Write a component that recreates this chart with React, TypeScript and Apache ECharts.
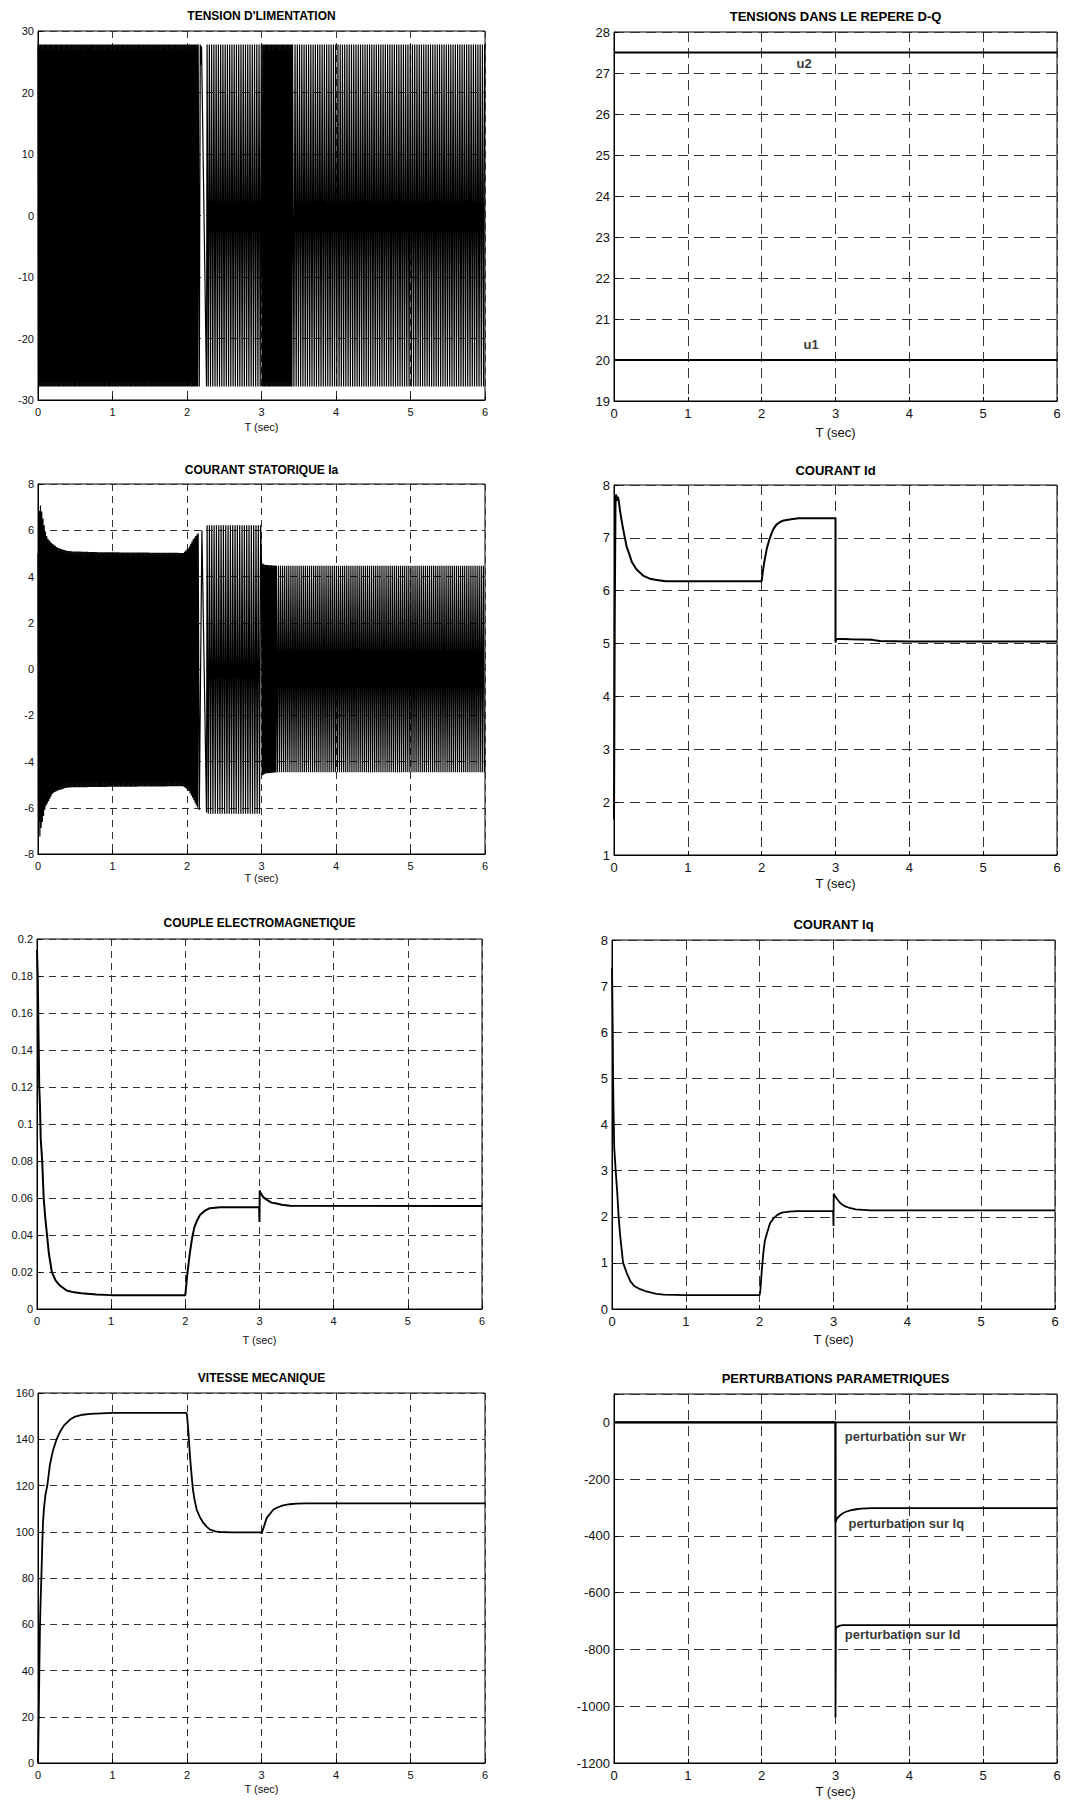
import React, { useEffect, useRef } from "react";
import * as echarts from "echarts";

const FONT = '"Liberation Sans", Arial, Helvetica, sans-serif';

// ---------- shared axis ----------
const timeMin = 0;
const timeMax = 6;
const timeStep = 1;

// ---------- 1. TENSION D'LIMENTATION (carrier between envelopes) ----------
const tensionEnvT = [0, 6];
const tensionEnvHi = [27.8, 27.8];
const tensionEnvLo = [-27.8, -27.8];
const tensionBurstStart = [0, 2.27, 3.0, 3.42];
const tensionBurstEnd = [2.155, 3.0, 3.42, 6.0];
const tensionBurstHz = [60, 33, 60, 33];
const tensionGapT = [2.165, 2.178, 2.186, 2.195, 2.262];
const tensionGapV = [-27.8, 27.8, 24.5, 27.5, -27.8];

// ---------- 2. TENSIONS DANS LE REPERE D-Q ----------
const u1T = [0, 6];
const u1V = [20, 20];
const u2T = [0, 6];
const u2V = [27.5, 27.5];

// ---------- 3. COURANT STATORIQUE Ia (carrier between envelopes) ----------
const iaEnvT = [0, 0.013, 0.036, 0.045, 0.067, 0.09, 0.11, 0.13, 0.16, 0.2, 0.27, 0.38, 0.43, 0.83, 1.95, 2.02, 2.04, 2.08, 2.13, 2.16, 2.27, 2.99, 3.0, 3.05, 3.2, 6.0];
const iaEnvHi = [5.0, 6.8, 7.1, 6.9, 6.5, 6.1, 5.8, 5.65, 5.52, 5.4, 5.23, 5.12, 5.09, 5.05, 5.02, 5.23, 5.35, 5.6, 5.8, 5.9, 6.22, 6.22, 4.6, 4.5, 4.47, 4.47];
const iaEnvLo = [-5.0, -7.5, -7.0, -6.8, -6.5, -6.1, -5.9, -5.79, -5.6, -5.36, -5.25, -5.14, -5.12, -5.1, -5.07, -5.25, -5.36, -5.6, -5.93, -6.08, -6.26, -6.26, -4.62, -4.52, -4.47, -4.47];
const iaBurstStart = [0, 2.27, 3.0, 3.2];
const iaBurstEnd = [2.155, 3.0, 3.2, 6.0];
const iaBurstHz = [60, 32, 60, 36];
const iaGapT = [2.165, 2.2, 2.262];
const iaGapV = [-6.1, 6.0, -6.2];

// ---------- 4. COURANT Id ----------
const idT = [0, 0.01, 0.02, 0.027, 0.04, 0.05, 0.065, 0.08, 0.1, 0.126, 0.15, 0.17, 0.2, 0.24, 0.3, 0.4, 0.5, 0.6, 0.7, 1.0, 2.0, 2.01, 2.03, 2.05, 2.07, 2.1, 2.13, 2.16, 2.2, 2.25, 2.3, 2.4, 2.5, 3.0, 3.0, 3.01, 3.2, 3.5, 3.6, 4.0, 6.0];
const idV = [1.67, 5.5, 7.6, 7.82, 7.7, 7.78, 7.7, 7.53, 7.35, 7.15, 6.98, 6.84, 6.72, 6.55, 6.41, 6.28, 6.22, 6.2, 6.18, 6.18, 6.18, 6.3, 6.5, 6.65, 6.8, 6.95, 7.07, 7.17, 7.25, 7.3, 7.33, 7.35, 7.37, 7.37, 5.02, 5.09, 5.08, 5.07, 5.05, 5.04, 5.04];

// ---------- 5. COUPLE ELECTROMAGNETIQUE ----------
const ceT = [0, 0.01, 0.02, 0.03, 0.04, 0.05, 0.07, 0.09, 0.11, 0.135, 0.16, 0.2, 0.25, 0.3, 0.4, 0.5, 0.6, 0.8, 1.0, 2.0, 2.01, 2.03, 2.06, 2.09, 2.12, 2.16, 2.2, 2.26, 2.33, 2.47, 2.995, 3.0, 3.003, 3.01, 3.05, 3.1, 3.16, 3.23, 3.3, 3.41, 6.0];
const ceV = [0.194, 0.18, 0.15, 0.12, 0.11, 0.092, 0.08, 0.06, 0.05, 0.04, 0.03, 0.02, 0.0155, 0.013, 0.01, 0.009, 0.0085, 0.0078, 0.0075, 0.0075, 0.012, 0.02, 0.03, 0.038, 0.044, 0.048, 0.051, 0.053, 0.0545, 0.055, 0.055, 0.047, 0.064, 0.063, 0.0605, 0.059, 0.0575, 0.057, 0.0563, 0.0558, 0.0557];

// ---------- 6. COURANT Iq ----------
const iqT = [0, 0.005, 0.01, 0.015, 0.02, 0.03, 0.05, 0.07, 0.09, 0.11, 0.13, 0.15, 0.2, 0.25, 0.3, 0.38, 0.45, 0.52, 0.6, 0.7, 1.0, 2.0, 2.01, 2.03, 2.05, 2.07, 2.1, 2.14, 2.19, 2.24, 2.3, 2.4, 2.5, 2.995, 3.0, 3.003, 3.01, 3.05, 3.09, 3.15, 3.22, 3.3, 3.4, 3.5, 6.0];
const iqV = [7.4, 6.8, 6.0, 5.0, 4.4, 3.5, 3.0, 2.55, 2.0, 1.6, 1.3, 1.0, 0.78, 0.6, 0.5, 0.43, 0.39, 0.36, 0.33, 0.31, 0.3, 0.3, 0.42, 0.86, 1.22, 1.48, 1.65, 1.86, 1.97, 2.04, 2.09, 2.11, 2.12, 2.12, 1.8, 2.5, 2.47, 2.38, 2.3, 2.23, 2.19, 2.16, 2.15, 2.14, 2.14];

// ---------- 7. VITESSE MECANIQUE ----------
const vT = [0, 0.01, 0.02, 0.027, 0.035, 0.045, 0.058, 0.067, 0.08, 0.1, 0.125, 0.16, 0.2, 0.25, 0.3, 0.35, 0.43, 0.5, 0.6, 0.7, 0.85, 1.0, 1.99, 2.0, 2.02, 2.04, 2.06, 2.08, 2.1, 2.13, 2.17, 2.22, 2.27, 2.31, 2.38, 2.44, 2.6, 2.99, 3.0, 3.03, 3.07, 3.12, 3.16, 3.22, 3.29, 3.38, 3.47, 3.6, 6.0];
const vV = [0, 20, 45, 60, 70, 80, 95, 104, 110, 116, 120, 129, 135, 140, 143.5, 146, 148.5, 149.8, 150.6, 151, 151.2, 151.4, 151.4, 150.5, 142.7, 132.6, 125, 118.2, 114, 109.6, 106.5, 103.8, 102, 100.9, 100.2, 99.9, 99.7, 99.7, 99.2, 102, 106, 108, 109.6, 110.6, 111.4, 111.9, 112.2, 112.3, 112.3];

// ---------- 8. PERTURBATIONS PARAMETRIQUES ----------
const pWrT = [0, 6];
const pWrV = [0, 0];
const pIqT = [0, 2.999, 3.0, 3.02, 3.06, 3.1, 3.15, 3.2, 3.28, 3.35, 3.42, 3.5, 6.0];
const pIqV = [0, 0, -352, -338, -328, -320, -314, -310, -306, -304, -303, -302, -302];
const pIdT = [0, 2.999, 3.0, 3.005, 3.01, 3.06, 3.1, 6.0];
const pIdV = [0, 0, -1040, -730, -722, -716, -714, -714];

// ---------- texts ----------
const titles = [
  "TENSION D'LIMENTATION",
  "TENSIONS DANS LE REPERE D-Q",
  "COURANT STATORIQUE Ia",
  "COURANT Id",
  "COUPLE ELECTROMAGNETIQUE",
  "COURANT Iq",
  "VITESSE MECANIQUE",
  "PERTURBATIONS PARAMETRIQUES",
];
const xName = "T (sec)";
const yMin = [-30, 19, -8, 1, 0, 0, 0, -1200];
const yMax = [30, 28, 8, 8, 0.2, 8, 160, 100];
const yStep = [10, 1, 2, 1, 0.02, 1, 20, 200];

const dqLabels = ["u2", "u1"];
const dqLabelT = [2.465, 2.56];
const dqLabelV = [27.24, 20.39];
const pertLabels = ["perturbation sur Wr", "perturbation sur Iq", "perturbation sur Id"];
const pertLabelT = [3.12, 3.17, 3.12];
const pertLabelV = [-50, -357, -749];

// ---------- helpers ----------
function zip(ts: number[], vs: number[]) {
  const n = Math.min(ts.length, vs.length);
  const out: number[][] = [];
  for (let i = 0; i < n; i++) out.push([ts[i], vs[i]]);
  return out;
}

function interp(ts: number[], vs: number[], t: number) {
  if (t <= ts[0]) return vs[0];
  for (let i = 1; i < ts.length; i++) {
    if (t <= ts[i]) {
      const a = ts[i - 1];
      const b = ts[i];
      const f = b === a ? 1 : (t - a) / (b - a);
      return vs[i - 1] + f * (vs[i] - vs[i - 1]);
    }
  }
  return vs[vs.length - 1];
}

function carrier(
  envT: number[], hi: number[], lo: number[],
  bStart: number[], bEnd: number[], bHz: number[],
  gapT: number[], gapV: number[]
) {
  const pts: number[][] = [];
  for (let s = 0; s < bStart.length; s++) {
    const half = 1 / (2 * bHz[s]);
    const n = Math.floor((bEnd[s] - bStart[s]) / half + 1e-9);
    for (let k = 0; k <= n; k++) {
      const t = bStart[s] + k * half;
      pts.push([t, k % 2 === 0 ? interp(envT, hi, t) : interp(envT, lo, t)]);
    }
  }
  for (let i = 0; i < gapT.length; i++) pts.push([gapT[i], gapV[i]]);
  pts.sort((a, b) => a[0] - b[0]);
  return pts;
}

// ---------- layout ----------
const layout = [
  { left: 38, top: 31, width: 447, height: 369 },
  { left: 614, top: 32, width: 443, height: 369 },
  { left: 38, top: 484, width: 447, height: 370 },
  { left: 614, top: 485, width: 443, height: 370 },
  { left: 37, top: 939, width: 445, height: 370 },
  { left: 612, top: 940, width: 443, height: 369 },
  { left: 38, top: 1393, width: 447, height: 370 },
  { left: 614, top: 1394, width: 443, height: 369 },
];
const titleY = [16, 16, 470, 470, 923, 924, 1378, 1378];
const nameGaps = [21.5, 24.5, 18.5, 21.5, 25.5, 23.5, 20.5, 21.5];

function buildOption() {
  const grid: any[] = [];
  const xAxis: any[] = [];
  const yAxis: any[] = [];
  const series: any[] = [];
  const graphic: any[] = [];

  layout.forEach((g, i) => {
    const right = i % 2 === 1;
    const fs = right ? 13 : 11;
    const dash = right ? [10, 6] : [7, 5];
    grid.push({
      left: g.left, top: g.top, width: g.width, height: g.height,
      show: true, borderColor: "#000", borderWidth: 1, backgroundColor: "transparent",
      containLabel: false,
    });
    xAxis.push({
      type: "value", gridIndex: i, min: timeMin, max: timeMax, interval: timeStep,
      name: xName, nameLocation: "middle", nameGap: nameGaps[i],
      nameTextStyle: { fontFamily: FONT, fontSize: fs, color: "#111" },
      axisLine: { show: true, onZero: false, lineStyle: { color: "#000", width: 1 } },
      axisTick: { show: true, inside: true, length: 4, lineStyle: { color: "#000" } },
      axisLabel: { fontFamily: FONT, fontSize: fs, color: "#111", margin: 6 },
      splitLine: { show: true, lineStyle: { color: "#333", width: 1, type: dash } },
    });
    yAxis.push({
      type: "value", gridIndex: i, min: yMin[i], max: yMax[i], interval: yStep[i],
      axisLine: { show: true, onZero: false, lineStyle: { color: "#000", width: 1 } },
      axisTick: { show: true, inside: true, length: 4, lineStyle: { color: "#000" } },
      axisLabel: {
        fontFamily: FONT, fontSize: fs, color: "#111", margin: 4,
        formatter: (v: number) => {
          if (v > yMax[i] - 1e-9 && i === 7) return "";
          return String(Math.round(v * 1000) / 1000);
        },
      },
      splitLine: { show: true, lineStyle: { color: "#333", width: 1, type: dash } },
    });
    graphic.push({
      type: "text",
      x: g.left + g.width / 2,
      y: titleY[i],
      style: {
        text: titles[i],
        font: `bold ${right ? 13 : 12}px ${FONT}`,
        fill: "#000",
        align: "center",
        verticalAlign: "middle",
      },
    });
  });

  const line = (idx: number, data: number[][], width: number) => ({
    type: "line", xAxisIndex: idx, yAxisIndex: idx, data,
    showSymbol: false, symbol: "none", clip: true, silent: true,
    lineStyle: { color: "#000", width },
  });
  const labelSeries = (idx: number, names: string[], ts: number[], vs: number[]) => ({
    type: "scatter", xAxisIndex: idx, yAxisIndex: idx, silent: true,
    symbolSize: 1, itemStyle: { color: "rgba(0,0,0,0)" },
    data: names.map((n, k) => ({ value: [ts[k], vs[k]], name: n })),
    label: {
      show: true, position: "right", distance: 0,
      formatter: (p: any) => p.name,
      fontFamily: FONT, fontSize: 13, fontWeight: "bold", color: "#000",
    },
  });

  series.push(line(0, carrier(tensionEnvT, tensionEnvHi, tensionEnvLo, tensionBurstStart, tensionBurstEnd, tensionBurstHz, tensionGapT, tensionGapV), 1.2));
  series.push(line(1, zip(u2T, u2V), 1.8));
  series.push(line(1, zip(u1T, u1V), 1.8));
  series.push(labelSeries(1, dqLabels, dqLabelT, dqLabelV));
  series.push(line(2, carrier(iaEnvT, iaEnvHi, iaEnvLo, iaBurstStart, iaBurstEnd, iaBurstHz, iaGapT, iaGapV), 1.2));
  series.push(line(3, zip(idT, idV), 2));
  series.push(line(4, zip(ceT, ceV), 2));
  series.push(line(5, zip(iqT, iqV), 1.8));
  series.push(line(6, zip(vT, vV), 1.8));
  series.push(line(7, zip(pWrT, pWrV), 1.8));
  series.push(line(7, zip(pIqT, pIqV), 1.8));
  series.push(line(7, zip(pIdT, pIdV), 1.8));
  series.push(labelSeries(7, pertLabels, pertLabelT, pertLabelV));

  return {
    animation: false,
    backgroundColor: "#fff",
    textStyle: { fontFamily: FONT },
    grid, xAxis, yAxis, series, graphic,
  };
}

export default function App() {
  const ref = useRef<HTMLDivElement>(null);
  useEffect(() => {
    document.body.style.margin = "0";
    const chart = echarts.init(ref.current as HTMLDivElement, null, { renderer: "svg" });
    chart.setOption(buildOption() as any);
    return () => chart.dispose();
  }, []);
  return <div ref={ref} style={{ width: 1065, height: 1803, background: "#fff" }} />;
}
